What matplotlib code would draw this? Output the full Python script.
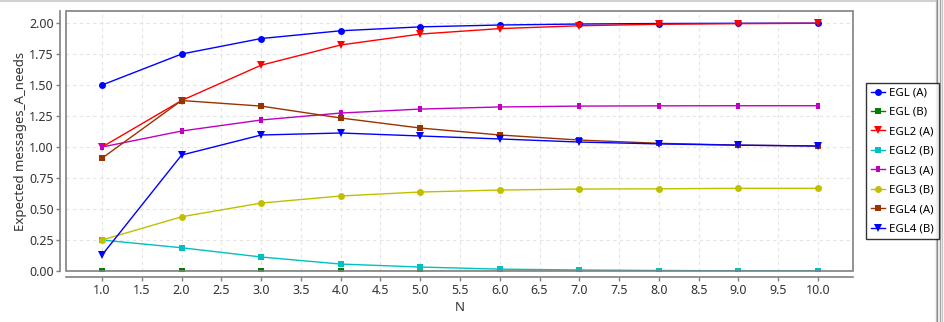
import numpy as np
import matplotlib.pyplot as plt
from matplotlib.lines import Line2D
from matplotlib.patches import Rectangle
from matplotlib.path import Path

plt.rcParams['font.family'] = ['Noto Sans', 'DejaVu Sans']

n_values = [1.0, 2.0, 3.0, 4.0, 5.0, 6.0, 7.0, 8.0, 9.0, 10.0]

egl_a = [1.5, 1.75, 1.875, 1.9375, 1.969, 1.984, 1.992, 1.996, 1.998, 1.999]
egl_b = [0.0, 0.0, 0.0, 0.0, 0.0, 0.0, 0.0, 0.0, 0.0, 0.0]
egl2_a = [1.0, 1.375, 1.66, 1.823, 1.911, 1.955, 1.978, 1.99, 1.995, 1.998]
egl2_b = [0.25, 0.1875, 0.113, 0.056, 0.032, 0.015, 0.008, 0.004, 0.002, 0.001]
egl3_a = [1.0, 1.129, 1.218, 1.274, 1.306, 1.323, 1.33, 1.332, 1.333, 1.333]
egl3_b = [0.25, 0.4375, 0.548, 0.605, 0.637, 0.653, 0.661, 0.663, 0.667, 0.667]
egl4_a = [0.91, 1.375, 1.33, 1.234, 1.153, 1.097, 1.056, 1.03, 1.015, 1.008]
egl4_b = [0.129, 0.935, 1.097, 1.113, 1.089, 1.065, 1.04, 1.025, 1.015, 1.008]

# small upright block used as the EGL3 (A) marker
tall_bar = Path([(-0.5, -1), (0.5, -1), (0.5, 1), (-0.5, 1), (-0.5, -1)],
                [Path.MOVETO, Path.LINETO, Path.LINETO, Path.LINETO, Path.CLOSEPOLY])

series = [
    ('EGL (A)', egl_a, '#0000ff', 'o', 5.0),
    ('EGL (B)', egl_b, '#008000', 's', 4.5),
    ('EGL2 (A)', egl2_a, '#ff0000', 'v', 5.5),
    ('EGL2 (B)', egl2_b, '#00c0c0', 's', 3.8),
    ('EGL3 (A)', egl3_a, '#c000c0', tall_bar, 4.5),
    ('EGL3 (B)', egl3_b, '#c0c000', 'o', 5.0),
    ('EGL4 (A)', egl4_a, '#993300', 's', 5.0),
    ('EGL4 (B)', egl4_b, '#0000ff', 'v', 5.5),
]

fig = plt.figure(figsize=(9.44, 3.22), dpi=100)
ax = fig.add_axes([66 / 944, 1 - 271 / 322, (853 - 66) / 944, (271 - 11) / 322])

handles = []
for label, vals, color, marker, ms in series:
    ax.plot(n_values, vals, color=color, linewidth=1.0, marker=marker,
            markersize=ms, markeredgewidth=0, label=label, zorder=3)
    handles.append(Line2D([], [], color=color, linewidth=1.0, marker=marker,
                          markersize=ms, markeredgewidth=0, label=label))

ax.set_xlim(0.547, 10.44)
ax.set_ylim(0, 2.097)
ax.set_xticks(np.arange(1.0, 10.01, 0.5))
ax.set_xticklabels([f'{v:.1f}' for v in np.arange(1.0, 10.01, 0.5)])
ax.set_yticks(np.arange(0, 2.01, 0.25))
ax.set_yticklabels([f'{v:.2f}' for v in np.arange(0, 2.01, 0.25)])
ax.grid(True, color='#e4e4e4', linestyle=(0, (3, 3)), linewidth=0.8)
ax.set_axisbelow(True)

# offset axis lines, plus a grey box round the plot area
for side in ['top', 'right']:
    ax.spines[side].set_visible(False)
for side in ['left', 'bottom']:
    ax.spines[side].set_position(('outward', 4))
    ax.spines[side].set_color('#808080')
    ax.spines[side].set_linewidth(1.2)
ax.add_patch(Rectangle((0, 0), 1, 1, transform=ax.transAxes, fill=False,
                       edgecolor='#808080', linewidth=1.2, clip_on=False, zorder=5))
ax.tick_params(axis='both', colors='#808080', length=3, width=1, labelsize=9,
               labelcolor='#333333', pad=2)

ax.set_xlabel('N', fontsize=9.5, color='#333333', labelpad=3)
ax.set_ylabel('Expected messages_A_needs', fontsize=9.5, color='#333333', labelpad=1)

leg = fig.legend(handles=handles, loc='upper left', bbox_to_anchor=(866 / 944, 1 - 83 / 322),
                 frameon=True, fancybox=False, edgecolor='black', fontsize=8.2,
                 handlelength=1.25, handletextpad=0.4, labelspacing=0.74,
                 borderpad=0.4, borderaxespad=0)
leg.get_frame().set_linewidth(1.0)

# window frame lines along the top and right edges
fig.add_artist(Line2D([0, 935 / 944], [1 - 0.5 / 322] * 2, color='#d0d0d0', linewidth=1.5))
for xpix, col in [(935.5, '#c8c8c8'), (937, '#8c8c8c'), (940, '#a0a0a0'), (942, '#c8c8c8')]:
    fig.add_artist(Line2D([xpix / 944] * 2, [0, 1], color=col, linewidth=1.0))

fig.savefig('out.png', dpi=100)
